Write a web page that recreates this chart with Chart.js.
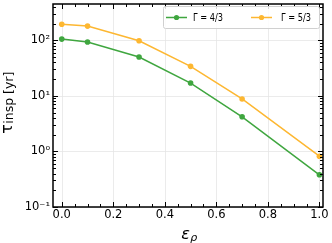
<!DOCTYPE html>
<html><head><meta charset="utf-8">
<script src="https://cdn.jsdelivr.net/npm/chart.js@4"></script>
<style>html,body{margin:0;padding:0;background:#fff}#w{width:332px;height:243px}</style>
</head><body><div id="w"><canvas id="c"></canvas></div>
<script>
const eps = [0.0, 0.1, 0.3, 0.5, 0.7, 1.0];
const tau43 = [105, 93, 50, 17, 4.2, 0.38];
const tau53 = [195, 180, 98, 34, 8.8, 0.82];
const labels = ['Γ = 4/3', 'Γ = 5/3'];
const xTicks = [0.0, 0.2, 0.4, 0.6, 0.8, 1.0];
const yTicks = [0.1, 1, 10, 100];
const yTickLabels = ['10⁻¹', '10⁰', '10¹', '10²'];
const GREEN = '#3fa63f', ORANGE = '#fdb731';
const FONT = "'DejaVu Sans', sans-serif";

const deco = {
  id: 'deco',
  beforeDatasetsDraw(ch) {
    const {ctx, chartArea: a, scales: {x, y}} = ch;
    ctx.save();
    ctx.strokeStyle = '#e6e6e6'; ctx.lineWidth = 0.8;
    xTicks.forEach(v => { const p = Math.round(x.getPixelForValue(v)) + 0.5; ctx.beginPath(); ctx.moveTo(p, a.top); ctx.lineTo(p, a.bottom); ctx.stroke(); });
    yTicks.forEach(v => { const p = Math.round(y.getPixelForValue(v)) + 0.5; ctx.beginPath(); ctx.moveTo(a.left, p); ctx.lineTo(a.right, p); ctx.stroke(); });
    ctx.restore();
  },
  afterDraw(ch) {
    const {ctx, chartArea: a, scales: {x, y}} = ch;
    ctx.save();
    ctx.strokeStyle = '#000';
    ctx.lineWidth = 1;
    const tk = (p, len, horiz) => {
      ctx.beginPath();
      if (horiz) {
        ctx.moveTo(p, a.bottom); ctx.lineTo(p, a.bottom - len);
        ctx.moveTo(p, a.top); ctx.lineTo(p, a.top + len);
      } else {
        ctx.moveTo(a.left, p); ctx.lineTo(a.left + len, p);
        ctx.moveTo(a.right, p); ctx.lineTo(a.right - len, p);
      }
      ctx.stroke();
    };
    for (let i = 0; i <= 20; i++) {
      const v = i * 0.05; const p = Math.round(x.getPixelForValue(v)) + 0.5;
      tk(p, i % 4 === 0 ? 5 : 3, true);
    }
    for (let e = -1; e <= 2; e++) {
      for (let m = 1; m <= 9; m++) {
        const v = m * Math.pow(10, e);
        if (v > y.max) break;
        const p = Math.round(y.getPixelForValue(v)) + 0.5;
        tk(p, m === 1 ? 5 : 3, false);
      }
    }
    ctx.lineWidth = 1.5;
    ctx.strokeRect(a.left, a.top, a.right - a.left, a.bottom - a.top);
    // legend
    const lx = 163, ly = 6, lw = 156, lh = 22;
    ctx.fillStyle = 'rgba(255,255,255,0.85)';
    ctx.strokeStyle = '#d0d0d0'; ctx.lineWidth = 1;
    ctx.beginPath(); ctx.roundRect(lx + 0.5, ly + 0.5, lw, lh, 2); ctx.fill(); ctx.stroke();
    const items = [[166, 193, GREEN, labels[0]], [251, 281, ORANGE, labels[1]]];
    ctx.font = '10px ' + FONT; ctx.textBaseline = 'middle'; ctx.textAlign = 'left';
    items.forEach(([x0, tx, col, lab]) => {
      const cy = ly + lh / 2 + 0.5;
      ctx.strokeStyle = col; ctx.lineWidth = 1.5;
      ctx.beginPath(); ctx.moveTo(x0, cy); ctx.lineTo(x0 + 21, cy); ctx.stroke();
      ctx.fillStyle = col; ctx.beginPath(); ctx.arc(x0 + 10.5, cy, 2.6, 0, Math.PI * 2); ctx.fill();
      ctx.fillStyle = '#000'; ctx.fillText(lab, tx, cy + 0.5, 30);
    });
    // y title
    ctx.save();
    ctx.fillStyle = '#000'; ctx.textBaseline = 'alphabetic'; ctx.textAlign = 'left';
    ctx.font = '16px ' + FONT;
    const tw = ctx.measureText('τ').width;
    ctx.font = '12.5px ' + FONT;
    const sw = ctx.measureText('insp [yr]').width;
    const start = -(tw + sw) / 2;
    ctx.translate(0, 103); ctx.rotate(-Math.PI / 2);
    ctx.font = '16px ' + FONT; ctx.fillText('τ', start, 11.5);
    ctx.font = '12.5px ' + FONT; ctx.fillText('insp [yr]', start + tw + 0.5, 13);
    ctx.restore();
    // x title
    ctx.fillStyle = '#000'; ctx.textBaseline = 'alphabetic'; ctx.textAlign = 'left';
    ctx.font = 'italic 16px ' + FONT;
    const ew = ctx.measureText('ε').width;
    ctx.font = 'italic 11px ' + FONT;
    const rw = ctx.measureText('ρ').width;
    const cx = 189 - (ew + rw) / 2;
    ctx.font = 'italic 16px ' + FONT; ctx.fillText('ε', cx, 239);
    ctx.font = 'italic 11px ' + FONT; ctx.fillText('ρ', cx + ew + 0.5, 241);
    ctx.restore();
  }
};

new Chart(document.getElementById('c'), {
  type: 'line',
  data: {
    datasets: [
      { label: labels[0], data: eps.map((e, i) => ({x: e, y: tau43[i]})), borderColor: GREEN, backgroundColor: GREEN, borderWidth: 1.5, pointRadius: 2.8, pointHoverRadius: 2.8, pointBorderWidth: 0, tension: 0 },
      { label: labels[1], data: eps.map((e, i) => ({x: e, y: tau53[i]})), borderColor: ORANGE, backgroundColor: ORANGE, borderWidth: 1.5, pointRadius: 2.8, pointHoverRadius: 2.8, pointBorderWidth: 0, tension: 0 }
    ]
  },
  options: {
    responsive: true, maintainAspectRatio: false, animation: false,
    layout: { padding: { top: 4, right: 9, left: 0, bottom: 0 } },
    plugins: { legend: { display: false }, tooltip: { enabled: false } },
    scales: {
      x: {
        type: 'linear', min: -0.034, max: 1.014,
        afterBuildTicks: s => { s.ticks = xTicks.map(v => ({value: v})); },
        afterFit: s => { s.height = 36; s.paddingLeft = 0; s.paddingRight = 0; },
        grid: { display: false, drawTicks: false },
        border: { display: false },
        ticks: { padding: 1, color: '#000', font: { family: FONT, size: 11.5 }, callback: v => v.toFixed(1), maxRotation: 0, autoSkip: false }
      },
      y: {
        type: 'logarithmic', min: 0.1, max: 450,
        afterBuildTicks: s => { s.ticks = yTicks.map(v => ({value: v})); },
        afterFit: s => { s.width = 53; s.paddingTop = 0; s.paddingBottom = 0; },
        grid: { display: false, drawTicks: false },
        border: { display: false },
        ticks: { padding: 3, color: '#000', font: { family: FONT, size: 11.5 }, callback: (v) => { const i = yTicks.indexOf(v); return i >= 0 ? yTickLabels[i] : ''; }, autoSkip: false }
      }
    }
  },
  plugins: [deco]
});
</script></body></html>
